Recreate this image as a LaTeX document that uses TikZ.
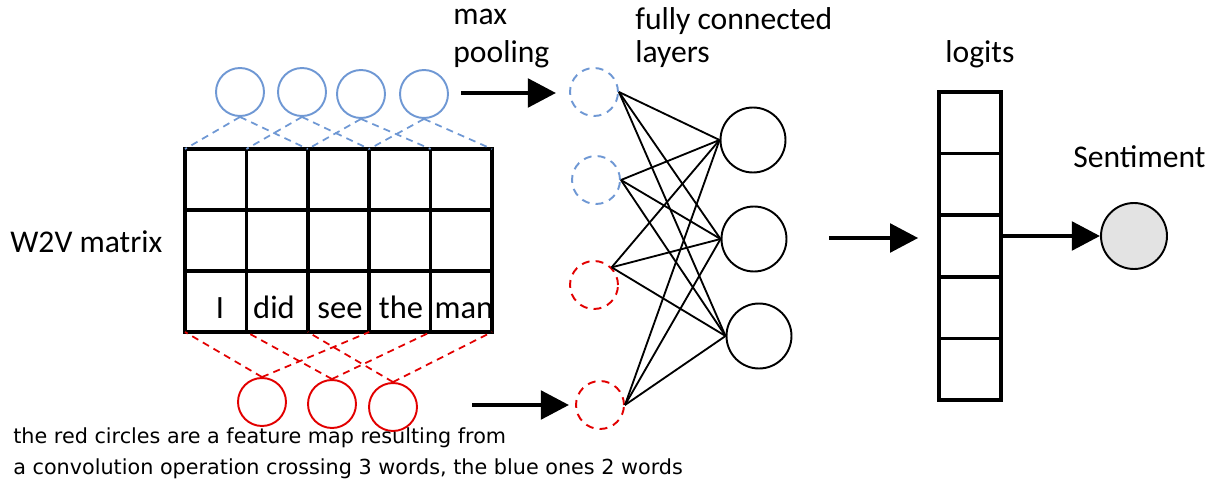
\documentclass[tikz,border=0pt]{standalone}
\usepackage{fontspec}
\setmainfont{Carlito}
\newfontfamily\notefont{DejaVu Sans}
\usetikzlibrary{arrows.meta}

\definecolor{convblue}{RGB}{111,152,212}
\definecolor{convred}{RGB}{226,0,0}
\definecolor{outgray}{RGB}{227,227,227}

\tikzset{
  grid line/.style={line width=2pt, line cap=rect},
  blue unit/.style={circle, draw=convblue, line width=1.1pt, minimum size=0.96cm, inner sep=0pt},
  red unit/.style={circle, draw=convred, line width=1.1pt, minimum size=0.96cm, inner sep=0pt},
  blue link/.style={draw=convblue, line width=1pt, dash pattern=on 4pt off 3pt},
  red link/.style={draw=convred, line width=1pt, dash pattern=on 4pt off 3pt},
  pool unit/.style={circle, line width=1.1pt, minimum size=0.96cm, inner sep=0pt, dash pattern=on 4.5pt off 3.5pt},
  hidden unit/.style={circle, draw, line width=1.1pt, minimum size=1.3cm, inner sep=0pt},
  fc/.style={line width=1.05pt},
  fat arrow/.style={line width=2.8pt, -{Triangle[length=16pt,width=16pt]}},
  heading/.style={font=\fontsize{18}{22}\selectfont, inner sep=0pt},
  word/.style={font=\fontsize{18.5}{22}\selectfont, inner sep=0pt, anchor=base},
  note/.style={font=\notefont\fontsize{11.8}{17.6}\selectfont, inner sep=0pt, align=left},
  logit/.style={draw, line width=2pt, minimum width=1.24cm, minimum height=1.232cm, inner sep=0pt},
}

\begin{document}
\begin{tikzpicture}[x=0.02cm, y=-0.02cm]
  \useasboundingbox (0,0) rectangle (1221,483);

  % word matrix, 5 words x 3 rows
  \foreach \i in {0,...,5}
    \draw[grid line] (185+61.4*\i,149) -- (185+61.4*\i,332);
  \foreach \j in {0,...,3}
    \draw[grid line] (185,149+61*\j) -- (492,149+61*\j);
  \foreach \i in {0,...,5} {
    \coordinate (t\i) at (185+61.4*\i,149);
    \coordinate (s\i) at (185+61.4*\i,332);
  }

  \node[word] (w1) at (220,318) {I};
  \node[word] (w2) at (274,318) {did};
  \node[word] (w3) at (340,318) {see};
  \node[word] (w4) at (401,318) {the};
  \node[word] (w5) at (464,318) {man};

  \node[heading, anchor=base west] (w2v) at (10,252) {W2V matrix};

  % blue feature map: windows of 2 words
  \node[blue unit] (b1) at (240,92) {};
  \node[blue unit] (b2) at (302,92) {};
  \node[blue unit] (b3) at (361,94) {};
  \node[blue unit] (b4) at (424,94) {};
  \foreach \k [evaluate=\k as \l using int(\k-1), evaluate=\k as \r using int(\k+1)] in {1,...,4}
    \draw[blue link] (b\k.south) -- (t\l) (b\k.south) -- (t\r);

  % red feature map: windows of 3 words
  \node[red unit] (r1) at (262,402) {};
  \node[red unit] (r2) at (332,404) {};
  \node[red unit] (r3) at (393,407) {};
  \foreach \k [evaluate=\k as \l using int(\k-1), evaluate=\k as \r using int(\k+2)] in {1,...,3}
    \draw[red link] (r\k.north) -- (s\l) (r\k.north) -- (s\r);

  % max pooling
  \node[heading, anchor=base west] (maxl) at (453,25) {max};
  \node[heading, anchor=base west] (pooll) at (453,63) {pooling};
  \node[pool unit, draw=convblue] (m1) at (594,92) {};
  \node[pool unit, draw=convblue] (m2) at (596,180) {};
  \node[pool unit, draw=convred] (m3) at (594,285) {};
  \node[pool unit, draw=convred] (m4) at (600,405) {};

  \coordinate (p1) at (461,93);
  \coordinate (p2) at (472,405);
  \draw[fat arrow, shorten >=0.26cm] (p1) -- (p1 -| m1.west);
  \draw[fat arrow, shorten >=0.12cm] (p2) -- (p2 -| m4.west);

  % fully connected layer
  \node[heading, anchor=base west] (fcl) at (635,30) {fully connected};
  \node[heading, anchor=base west] (layl) at (635,63) {layers};
  \node[hidden unit] (h1) at (753,140) {};
  \node[hidden unit] (h2) at (754,239) {};
  \node[hidden unit] (h3) at (759,336) {};
  \foreach \a in {m1.east, m2.east, m3.north east, m4.east}
    \foreach \h in {h1,h2,h3}
      \draw[fc] (\a) -- (\h.west);

  % logits and output
  \foreach \k in {1,...,5}
    \node[logit] (l\k) at (970,{122.8+61.6*(\k-1)}) {};
  \node[heading, anchor=base west] (logits) at (945,63) {logits};

  \coordinate (p3) at (829,238);
  \draw[fat arrow, shorten >=0.38cm] (p3) -- (p3 -| l3.west);

  \node[circle, draw, fill=outgray, line width=1.1pt, minimum size=1.32cm, inner sep=0pt] (sent) at (1134,236) {};
  \draw[fat arrow] (sent -| l3.east) -- (sent.west);
  \node[heading, anchor=base west] (sentl) at (1073,168) {Sentiment};

  \node[note, anchor=north west] (caption) at (13,427.4)
    {the red circles are a feature map resulting from\\
     a convolution operation crossing 3 words, the blue ones 2 words};
\end{tikzpicture}
\end{document}
